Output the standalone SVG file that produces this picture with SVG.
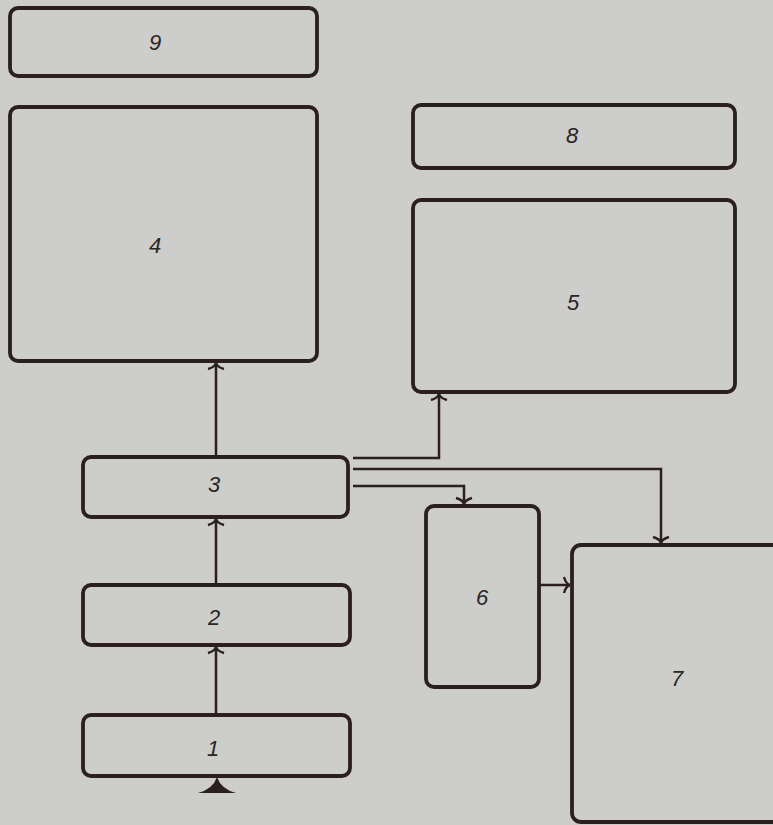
<svg xmlns="http://www.w3.org/2000/svg" width="773" height="825" viewBox="0 0 773 825">
<style>
.box{fill:none;stroke:#2b1f1f;stroke-width:3.8}
.lbl{font-family:"Liberation Sans",Arial,sans-serif;font-style:italic;font-size:22px;fill:#2b2525;text-anchor:middle;dominant-baseline:central}
.con{fill:none;stroke:#2b1f1f;stroke-width:2.5;marker-end:url(#ah)}
</style>
<defs>
<marker id="ah" markerUnits="userSpaceOnUse" markerWidth="16" markerHeight="20" viewBox="-8 -10 16 20" refX="0" refY="0" orient="auto">
<path d="M-6,-8 Q-4,-1 0,0 Q-4,1 -6,8" fill="none" stroke="#2b1f1f" stroke-width="2.4"/>
</marker>
</defs>
<rect x="0" y="0" width="773" height="825" fill="#cdcdcb"/>
<g id="n9"><rect class="box" x="10" y="8" width="307" height="68" rx="8"/><text class="lbl" x="155" y="42">9</text></g>
<g id="n4"><rect class="box" x="10" y="107" width="307" height="254" rx="8"/><text class="lbl" x="155" y="245">4</text></g>
<g id="n8"><rect class="box" x="413" y="105" width="322" height="63" rx="8"/><text class="lbl" x="572" y="135">8</text></g>
<g id="n5"><rect class="box" x="413" y="200" width="322" height="192" rx="8"/><text class="lbl" x="573" y="302">5</text></g>
<g id="n3"><rect class="box" x="83" y="457" width="265" height="60" rx="8"/><text class="lbl" x="214" y="484">3</text></g>
<g id="n2"><rect class="box" x="83" y="585" width="267" height="60" rx="8"/><text class="lbl" x="214" y="617">2</text></g>
<g id="n1"><rect class="box" x="83" y="715" width="267" height="61" rx="8"/><text class="lbl" x="213" y="748">1</text></g>
<g id="n6"><rect class="box" x="426" y="506" width="113" height="181" rx="8"/><text class="lbl" x="482" y="597">6</text></g>
<g id="n7"><rect class="box" x="572" y="545" width="230" height="277" rx="9"/><text class="lbl" x="677" y="678">7</text></g>
<g id="connectors">
<path class="con" d="M216,715 V647"/>
<path class="con" d="M216,585 V519"/>
<path class="con" d="M216,457 V363"/>
<path class="con" d="M353,458 H439 V394"/>
<path class="con" d="M353,469 H661 V543"/>
<path class="con" d="M353,486 H464 V504"/>
<path class="con" d="M540,585 H570"/>
<path d="M198,793 Q213,789 217,777 Q221,789 236,793 Z" fill="#2b1f1f"/>
</g>
</svg>
